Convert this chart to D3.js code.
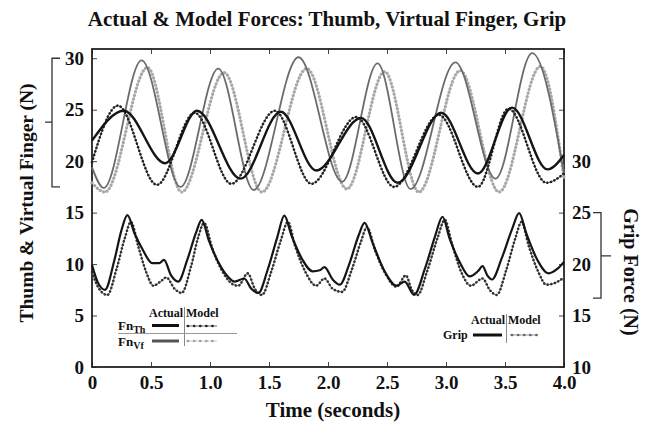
<!DOCTYPE html>
<html><head><meta charset="utf-8">
<script src="https://cdn.jsdelivr.net/npm/d3@7"></script>
<style>body{margin:0;background:#fff} svg{display:block} text{font-family:"Liberation Serif","Times New Roman",serif;font-weight:bold;fill:#111}</style>
</head><body>
<svg id="c" width="647" height="423"></svg>
<script>
// ---- data (time in s, force in N) ----
const thumbActual = [[0,22.0],[0.27,24.9],[0.62,19.8],[0.89,24.9],[1.26,18.3],[1.60,24.8],[1.90,19.1],[2.28,24.2],[2.59,17.9],[2.96,24.7],[3.27,18.8],[3.56,25.2],[3.86,19.2],[4.0,20.6]];
const thumbModel  = [[0,19.9],[0.22,25.4],[0.55,17.7],[0.87,24.7],[1.18,17.8],[1.55,24.9],[1.86,17.8],[2.24,24.3],[2.56,17.5],[2.94,24.5],[3.27,17.5],[3.53,25.1],[3.85,17.9],[4.0,18.8]];
const vfActual    = [[0,19.4],[0.10,17.4],[0.42,29.8],[0.75,17.5],[1.07,29.0],[1.37,17.2],[1.75,30.1],[2.12,18.0],[2.42,29.5],[2.70,17.3],[3.08,29.6],[3.42,18.3],[3.73,30.5],[4.0,18.8]];
const vfModel     = [[0,17.9],[0.11,17.0],[0.47,29.1],[0.76,17.0],[1.12,28.6],[1.44,17.0],[1.82,29.0],[2.16,17.3],[2.48,28.7],[2.77,17.0],[3.12,28.8],[3.45,17.0],[3.80,29.2],[4.0,18.3]];
const gripActual  = [[0,19.9],[0.05,18.2],[0.11,17.5],[0.19,20.4],[0.25,23.3],[0.30,24.75],[0.36,23.0],[0.43,21.4],[0.51,20.1],[0.57,20.1],[0.61,20.4],[0.67,18.9],[0.73,18.3],[0.81,20.5],[0.88,23.0],[0.93,24.3],[0.99,22.3],[1.07,20.2],[1.15,18.8],[1.21,18.3],[1.29,18.6],[1.35,17.6],[1.41,17.2],[1.49,19.5],[1.57,22.6],[1.63,24.7],[1.69,22.8],[1.78,20.5],[1.87,19.3],[1.93,19.4],[1.97,19.7],[2.04,18.5],[2.10,18.0],[2.18,20.0],[2.26,22.8],[2.31,24.0],[2.38,22.0],[2.48,19.3],[2.58,17.9],[2.65,18.3],[2.73,17.0],[2.82,19.5],[2.91,22.8],[2.97,24.6],[3.03,22.5],[3.12,20.1],[3.20,18.8],[3.27,19.3],[3.31,19.8],[3.35,18.9],[3.39,18.5],[3.47,20.5],[3.56,23.4],[3.62,24.95],[3.68,23.0],[3.77,20.5],[3.87,19.1],[3.94,19.5],[4.0,20.2]];
const gripModel   = [[0,19.2],[0.06,17.6],[0.13,17.0],[0.21,19.6],[0.28,22.6],[0.33,24.1],[0.39,21.8],[0.46,19.2],[0.52,17.9],[0.58,18.3],[0.63,18.7],[0.70,17.6],[0.76,17.2],[0.84,19.8],[0.90,22.6],[0.95,24.0],[1.02,21.5],[1.12,19.0],[1.20,18.0],[1.24,17.9],[1.32,19.1],[1.38,17.6],[1.44,17.0],[1.52,19.3],[1.60,22.3],[1.66,24.1],[1.72,21.8],[1.81,19.2],[1.90,17.9],[1.97,18.6],[2.04,17.6],[2.12,17.3],[2.20,19.4],[2.28,22.2],[2.33,23.6],[2.40,21.3],[2.49,19.0],[2.58,17.8],[2.66,18.9],[2.71,17.5],[2.76,17.0],[2.84,19.3],[2.93,22.6],[2.99,24.3],[3.05,22.0],[3.13,19.2],[3.21,17.9],[3.31,18.6],[3.37,17.5],[3.43,17.0],[3.51,19.4],[3.59,22.6],[3.64,24.1],[3.70,21.8],[3.78,19.3],[3.85,18.0],[3.93,18.2],[4.0,18.7]];

const xTicks = [0,0.5,1.0,1.5,2.0,2.5,3.0,3.5,4.0];
const xTickLabels = ["0","0.5","1.0","1.5","2.0","2.5","3.0","3.5","4.0"];
const leftTicks = [0,5,10,15,20,25,30];
const rightTicks = [10,15,20,25,30,35,40];
const rightTickLabels = ["10","15","20","25","30","",""];

const title = "Actual & Model Forces: Thumb, Virtual Finger, Grip";
const xTitle = "Time (seconds)";
const yLeftTitle = "Thumb & Virtual Finger (N)";
const yRightTitle = "Grip Force (N)";

// ---- layout ----
const L=92, R=564, T=49, B=367;
const svg = d3.select("#c");
const x = d3.scaleLinear().domain([0,4]).range([L,R]);
const yL = d3.scaleLinear().domain([0,30.9]).range([B,T]);
const yR = d3.scaleLinear().domain([10,40.9]).range([B,T]);

const lineL = d3.line().x(d=>x(d[0])).y(d=>yL(d[1])).curve(d3.curveMonotoneX);
const lineR = d3.line().x(d=>x(d[0])).y(d=>yR(d[1])).curve(d3.curveMonotoneX);

function axisStyle(g){
  g.select(".domain").remove();
  g.selectAll(".tick line").attr("stroke","#444").attr("stroke-width",1);
  g.selectAll(".tick text").style("font-size","19px").attr("fill","#111");
}
svg.append("g").attr("transform",`translate(0,${B})`)
  .call(d3.axisBottom(x).tickValues(xTicks).tickFormat((d,i)=>xTickLabels[i]).tickSizeInner(-5).tickSizeOuter(0).tickPadding(9))
  .call(axisStyle);
svg.append("g").attr("transform",`translate(0,${T})`)
  .call(d3.axisTop(x).tickValues(xTicks).tickFormat("").tickSizeInner(-5).tickSizeOuter(0))
  .call(axisStyle);
svg.append("g").attr("transform",`translate(${L},0)`)
  .call(d3.axisLeft(yL).tickValues(leftTicks).tickFormat(d3.format("d")).tickSizeInner(-5).tickSizeOuter(0).tickPadding(8))
  .call(axisStyle);
svg.append("g").attr("transform",`translate(${R},0)`)
  .call(d3.axisRight(yR).tickValues(rightTicks).tickFormat((d,i)=>rightTickLabels[i]).tickSizeInner(-5).tickSizeOuter(0).tickPadding(8))
  .call(axisStyle);

// frame
svg.append("rect").attr("x",L).attr("y",T).attr("width",R-L).attr("height",B-T)
  .attr("fill","none").attr("stroke","#222").attr("stroke-width",1.8);

// series
function modelPath(data, gen, color, dotColor, w){
  svg.append("path").datum(data).attr("d",gen).attr("fill","none")
    .attr("stroke",color).attr("stroke-width",0.9);
  svg.append("path").datum(data).attr("d",gen).attr("fill","none")
    .attr("stroke",dotColor).attr("stroke-width",w).attr("stroke-linecap","round")
    .attr("stroke-dasharray","0.1,3.6");
}
function actualPath(data, gen, color, w){
  svg.append("path").datum(data).attr("d",gen).attr("fill","none")
    .attr("stroke",color).attr("stroke-width",w).attr("stroke-linejoin","round");
}
modelPath(vfModel, lineL, "#c4c4c4", "#a8a8a8", 3.2);
actualPath(vfActual, lineL, "#6b6b6b", 1.8);
modelPath(thumbModel, lineL, "#555", "#222", 2.6);
actualPath(thumbActual, lineL, "#151515", 2.4);
modelPath(gripModel, lineR, "#666", "#333", 2.6);
actualPath(gripActual, lineR, "#151515", 2.2);

// titles
svg.append("text").attr("x",327).attr("y",26).attr("text-anchor","middle").style("font-size","21px").text(title);
svg.append("text").attr("x",333).attr("y",417).attr("text-anchor","middle").style("font-size","21px").text(xTitle);
svg.append("text").attr("transform","translate(33,203) rotate(-90)").attr("text-anchor","middle").style("font-size","19.5px").text(yLeftTitle);
svg.append("text").attr("transform","translate(624,272) rotate(90)").attr("text-anchor","middle").style("font-size","20px").text(yRightTitle);

// brackets
const br = svg.append("g").attr("fill","none").attr("stroke","#333").attr("stroke-width",1.3);
br.append("path").attr("d",`M60,${yL(30)} H52 V${yL(17.5)} H60 M52,${yL(23.8)} H45`);
br.append("path").attr("d",`M593,${yR(25)} H601 V${yR(16.7)} H593 M601,${yR(20.8)} H611`);

// left legend
const lg = svg.append("g");
lg.append("text").attr("x",183).attr("y",317).attr("text-anchor","end").style("font-size","12px").text("Actual");
lg.append("text").attr("x",186).attr("y",317).style("font-size","12px").text("Model");
lg.append("line").attr("x1",184.5).attr("x2",184.5).attr("y1",307).attr("y2",346).attr("stroke","#888").attr("stroke-width",1);
lg.append("line").attr("x1",118).attr("x2",237).attr("y1",333.5).attr("y2",333.5).attr("stroke","#999").attr("stroke-width",1);
const fn1 = lg.append("text").attr("x",118).attr("y",330).style("font-size","13px");
fn1.append("tspan").text("Fn"); fn1.append("tspan").attr("dy",3).style("font-size","10px").text("Th");
const fn2 = lg.append("text").attr("x",118).attr("y",346).style("font-size","13px");
fn2.append("tspan").text("Fn"); fn2.append("tspan").attr("dy",3).style("font-size","10px").text("Vf");
lg.append("line").attr("x1",152).attr("x2",179).attr("y1",325.5).attr("y2",325.5).attr("stroke","#111").attr("stroke-width",3);
lg.append("line").attr("x1",152).attr("x2",179).attr("y1",341).attr("y2",341).attr("stroke","#555").attr("stroke-width",3);
function legModel(g,x1,x2,y,color,dot){
  g.append("line").attr("x1",x1).attr("x2",x2).attr("y1",y).attr("y2",y).attr("stroke",color).attr("stroke-width",0.9);
  g.append("line").attr("x1",x1+2).attr("x2",x2).attr("y1",y).attr("y2",y).attr("stroke",dot).attr("stroke-width",2.6)
    .attr("stroke-linecap","round").attr("stroke-dasharray","0.1,6");
}
legModel(lg,186,217,326,"#555","#222");
legModel(lg,186,217,341,"#c4c4c4","#a0a0a0");

// right legend
const rg = svg.append("g");
rg.append("text").attr("x",505).attr("y",324).attr("text-anchor","end").style("font-size","12px").text("Actual");
rg.append("text").attr("x",508).attr("y",324).style("font-size","12px").text("Model");
rg.append("line").attr("x1",506.5).attr("x2",506.5).attr("y1",314).attr("y2",343).attr("stroke","#888").attr("stroke-width",1);
rg.append("text").attr("x",443).attr("y",339).style("font-size","12px").text("Grip");
rg.append("line").attr("x1",473).attr("x2",502).attr("y1",335).attr("y2",335).attr("stroke","#111").attr("stroke-width",3);
legModel(rg,510,538,335,"#888","#666");
</script>
</body></html>
